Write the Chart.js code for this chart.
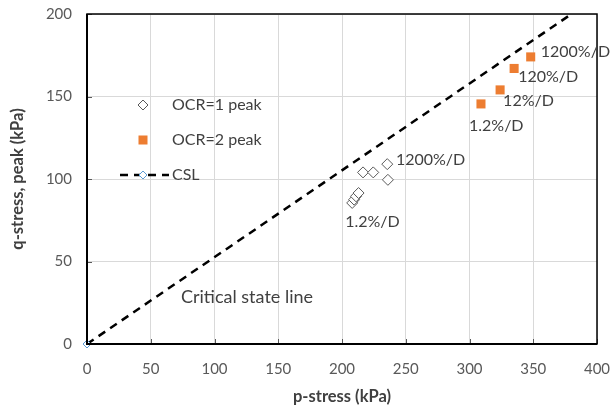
<!DOCTYPE html>
<html>
<head>
<meta charset="utf-8">
<script src="https://cdn.jsdelivr.net/npm/chart.js@4"></script>
<style>
  html, body { margin: 0; padding: 0; background: #fff; }
  #wrap { width: 611px; height: 411px; }
</style>
</head>
<body>
<div id="wrap"><canvas id="csChart" width="611" height="411"></canvas></div>
<script>
// valores (kPa)
const ocr1P = [208, 209.5, 211, 213, 216.5, 224.5, 235.5, 236];
const ocr1Q = [85.5, 87.5, 89.5, 91.5, 104, 104, 109, 99.5];
const ocr2P = [309, 324, 335, 348];
const ocr2Q = [145.5, 154, 167, 174];
const cslP = [0, 380];
const cslQ = [0, 200];
const xTicks = [0, 50, 100, 150, 200, 250, 300, 350, 400];
const yTicks = [0, 50, 100, 150, 200];

// rótulos de taxa de deformação, ancorados nos pontos
const rateLabels = ["1.2%/D", "1200%/D", "1.2%/D", "12%/D", "120%/D", "1200%/D"];
const rateAnchorP = [208, 236, 309, 324, 335, 348];
const rateAnchorQ = [85.5, 109, 145.5, 154, 167, 174];

const FONT = "Lato, 'Open Sans', sans-serif";
const TXT = "#404040";

const toPts = (xs, ys) => xs.map((x, i) => ({ x: x, y: ys[i] }));

// desenha moldura, marcas internas, legenda e anotações
const extras = {
  id: "extras",
  afterDraw(chart) {
    const { ctx, chartArea: a, scales } = chart;
    const sx = scales.x, sy = scales.y;
    ctx.save();
    // marcas de escala internas
    ctx.strokeStyle = "#595959";
    ctx.lineWidth = 1;
    xTicks.forEach((v) => {
      const px = Math.round(sx.getPixelForValue(v)) + 0.5;
      ctx.beginPath(); ctx.moveTo(px, a.bottom); ctx.lineTo(px, a.bottom - 5); ctx.stroke();
    });
    yTicks.forEach((v) => {
      const py = Math.round(sy.getPixelForValue(v)) + 0.5;
      ctx.beginPath(); ctx.moveTo(a.left, py); ctx.lineTo(a.left + 5, py); ctx.stroke();
    });
    // moldura
    ctx.strokeStyle = "#000";
    ctx.lineWidth = 1.5;
    ctx.strokeRect(a.left, a.top, a.right - a.left, a.bottom - a.top);
    ctx.lineWidth = 2;
    ctx.beginPath();
    ctx.moveTo(a.left, a.top); ctx.lineTo(a.left, a.bottom); ctx.lineTo(a.right, a.bottom);
    ctx.stroke();

    // legenda
    ctx.font = "16px " + FONT;
    ctx.fillStyle = TXT;
    ctx.textBaseline = "middle";
    ctx.textAlign = "left";
    const lx = 143, tx = 172;
    // OCR=1
    ctx.strokeStyle = "#595959"; ctx.lineWidth = 1; ctx.fillStyle = "#fff";
    ctx.beginPath();
    ctx.moveTo(lx, 100); ctx.lineTo(lx + 5, 105); ctx.lineTo(lx, 110); ctx.lineTo(lx - 5, 105); ctx.closePath();
    ctx.fill(); ctx.stroke();
    ctx.fillStyle = TXT; ctx.fillText("OCR=1 peak", tx, 105);
    // OCR=2
    ctx.fillStyle = "#ED7D31";
    ctx.fillRect(lx - 4.5, 135.5, 9, 9);
    ctx.fillStyle = TXT; ctx.fillText("OCR=2 peak", tx, 140);
    // CSL
    ctx.strokeStyle = "#000"; ctx.lineWidth = 2.5; ctx.setLineDash([8, 6]);
    ctx.beginPath(); ctx.moveTo(120, 175); ctx.lineTo(169, 175); ctx.stroke();
    ctx.setLineDash([]);
    ctx.strokeStyle = "#5B9BD5"; ctx.lineWidth = 1; ctx.fillStyle = "#fff";
    ctx.beginPath();
    ctx.moveTo(lx, 171); ctx.lineTo(lx + 4, 175); ctx.lineTo(lx, 179); ctx.lineTo(lx - 4, 175); ctx.closePath();
    ctx.fill(); ctx.stroke();
    ctx.fillStyle = TXT; ctx.fillText("CSL", tx, 175);

    // rótulos de taxa
    const offs = [[-7, 19], [8, -4], [-12, 22], [3, 11], [4, 8], [10, -5]];
    rateLabels.forEach((t, i) => {
      const px = sx.getPixelForValue(rateAnchorP[i]) + offs[i][0];
      const py = sy.getPixelForValue(rateAnchorQ[i]) + offs[i][1];
      ctx.fillText(t, px, py);
    });
    ctx.font = "18px " + FONT;
    ctx.fillText("Critical state line", 181, 297);
    ctx.restore();
  }
};

new Chart(document.getElementById("csChart"), {
  type: "scatter",
  data: {
    datasets: [
      {
        label: "OCR=1 peak",
        data: toPts(ocr1P, ocr1Q),
        pointStyle: "rectRot",
        pointRadius: 5.5,
        borderColor: "#595959",
        backgroundColor: "#fff",
        borderWidth: 1,
      },
      {
        label: "OCR=2 peak",
        data: toPts(ocr2P, ocr2Q),
        pointStyle: "rect",
        pointRadius: 6.4,
        borderColor: "#ED7D31",
        backgroundColor: "#ED7D31",
        borderWidth: 0,
      },
      {
        label: "CSL",
        data: toPts(cslP, cslQ),
        showLine: true,
        borderColor: "#000",
        borderWidth: 2.5,
        borderDash: [8, 6],
        pointStyle: "rectRot",
        pointRadius: [4, 0],
        pointBorderColor: "#5B9BD5",
        pointBackgroundColor: "#fff",
        pointBorderWidth: 1,
        clip: false,
      },
    ],
  },
  options: {
    responsive: false,
    animation: false,
    layout: { padding: { left: 0, top: 14, right: 14, bottom: 0 } },
    plugins: { legend: { display: false }, tooltip: { enabled: false } },
    scales: {
      x: {
        type: "linear",
        min: 0,
        max: 400,
        afterBuildTicks: (s) => { s.ticks = xTicks.map((v) => ({ value: v })); },
        afterFit: (s) => { s.height = 67; s.paddingLeft = 0; s.paddingRight = 0; },
        grid: { color: "#D9D9D9", drawTicks: false },
        border: { display: false },
        ticks: { padding: 16, color: "#595959", font: { family: FONT, size: 15 } },
        title: {
          display: true,
          text: "p-stress (kPa)",
          color: TXT,
          font: { family: FONT, size: 16.5, weight: "bold" },
          padding: { top: 0, bottom: 4 },
        },
      },
      y: {
        type: "linear",
        min: 0,
        max: 200,
        afterBuildTicks: (s) => { s.ticks = yTicks.map((v) => ({ value: v })); },
        afterFit: (s) => { s.width = 87; s.paddingTop = 0; s.paddingBottom = 0; },
        grid: { color: "#D9D9D9", drawTicks: false },
        border: { display: false },
        ticks: { padding: 15, color: "#595959", font: { family: FONT, size: 15 } },
        title: {
          display: true,
          text: "q-stress, peak (kPa)",
          color: TXT,
          font: { family: FONT, size: 16.5, weight: "bold" },
          padding: { top: 8, bottom: 0 },
        },
      },
    },
  },
  plugins: [extras],
});
</script>
</body>
</html>
